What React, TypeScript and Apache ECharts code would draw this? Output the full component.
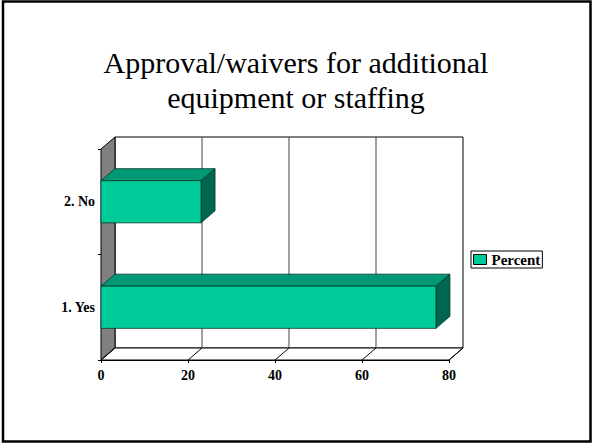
import React, { useEffect, useRef } from "react";
import * as echarts from "echarts";

// Chart data
const categories = ["1. Yes", "2. No"];
const percent = [77, 23];
const xTicks = [0, 20, 40, 60, 80];
const seriesName = "Percent";
const titleLines = ["Approval/waivers for additional", "equipment or staffing"];

// 3D depth offset of the box (pixels)
const DX = 14;
const DY = -12;
const SERIF = "Liberation Serif";

export default function App() {
  const ref = useRef<HTMLDivElement>(null);

  useEffect(() => {
    if (!ref.current) return;
    const chart = echarts.init(ref.current, undefined, { renderer: "svg" });

    const xMin = xTicks[0];
    const xMax = xTicks[xTicks.length - 1];

    const option: any = {
      animation: false,
      backgroundColor: "#fff",
      textStyle: { fontFamily: SERIF },
      title: {
        text: titleLines.join("\n"),
        left: "center",
        top: 40,
        textStyle: {
          fontFamily: SERIF,
          fontSize: 30,
          fontWeight: "normal",
          lineHeight: 35,
          color: "#000",
        },
      },
      legend: {
        data: [
          {
            name: seriesName,
            icon: "rect",
            itemStyle: { color: "#00CC99", borderColor: "#000", borderWidth: 1 },
          },
        ],
        left: 471,
        top: 251,
        orient: "vertical",
        padding: [1, 2, 1, 2],
        itemWidth: 13,
        itemHeight: 10,
        borderColor: "#000",
        borderWidth: 1,
        backgroundColor: "#fff",
        selectedMode: false,
        textStyle: {
          fontFamily: SERIF,
          fontWeight: "bold",
          fontSize: 15,
          color: "#000",
        },
      },
      grid: { left: 101, top: 149, width: 348, height: 211 },
      xAxis: {
        type: "value",
        min: xMin,
        max: xMax,
        interval: 20,
        axisLine: { show: true, lineStyle: { color: "#000", width: 1 } },
        axisTick: { show: true, length: 3, lineStyle: { color: "#000" } },
        splitLine: { show: false },
        axisLabel: {
          margin: 8,
          fontFamily: SERIF,
          fontWeight: "bold",
          fontSize: 14,
          color: "#000",
        },
      },
      yAxis: {
        type: "category",
        data: categories,
        axisLine: { show: true, lineStyle: { color: "#000", width: 1 } },
        axisTick: { show: true, length: 3, lineStyle: { color: "#000" } },
        axisLabel: {
          margin: 6,
          fontFamily: SERIF,
          fontWeight: "bold",
          fontSize: 14,
          color: "#000",
        },
      },
      graphic: [
        {
          type: "rect",
          shape: { x: 3, y: 1.5, width: 587.5, height: 440 },
          style: { fill: "none", stroke: "#000", lineWidth: 2.5 },
          silent: true,
        },
      ],
      series: [
        {
          // walls, floor and gridlines of the 3D box
          type: "custom",
          name: "frame",
          silent: true,
          z: 1,
          data: [[xMin, 0]],
          renderItem: (params: any, api: any) => {
            const cs = params.coordSys;
            const left = cs.x;
            const top = cs.y;
            const right = cs.x + cs.width;
            const bottom = cs.y + cs.height;
            const children: any[] = [
              {
                type: "rect",
                shape: { x: left + DX, y: top + DY, width: cs.width, height: cs.height },
                style: { fill: "#fff", stroke: "#000", lineWidth: 1 },
              },
              {
                type: "polygon",
                shape: {
                  points: [
                    [left, top],
                    [left + DX, top + DY],
                    [left + DX, bottom + DY],
                    [left, bottom],
                  ],
                },
                style: { fill: "#808080", stroke: "#000", lineWidth: 1 },
              },
              {
                type: "polygon",
                shape: {
                  points: [
                    [left, bottom],
                    [left + DX, bottom + DY],
                    [right + DX, bottom + DY],
                    [right, bottom],
                  ],
                },
                style: { fill: "#fff", stroke: "#000", lineWidth: 1 },
              },
            ];
            xTicks.forEach((t) => {
              const x = api.coord([t, 0])[0];
              if (t !== xMin && t !== xMax) {
                children.push({
                  type: "line",
                  shape: { x1: x + DX, y1: top + DY, x2: x + DX, y2: bottom + DY },
                  style: { stroke: "#444", lineWidth: 1 },
                });
              }
              children.push({
                type: "line",
                shape: { x1: x, y1: bottom, x2: x + DX, y2: bottom + DY },
                style: { stroke: "#000", lineWidth: 1 },
              });
            });
            return { type: "group", children };
          },
        },
        {
          type: "custom",
          name: seriesName,
          z: 3,
          itemStyle: { color: "#00CC99" },
          encode: { x: 0, y: 1 },
          data: percent.map((v, i) => [v, i]),
          renderItem: (params: any, api: any) => {
            const cat = api.value(1);
            const [x1, yc] = api.coord([api.value(0), cat]);
            const x0 = api.coord([xMin, cat])[0];
            const band = api.size([0, 1])[1];
            const h = band * 0.4;
            const yt = yc - h / 2;
            const yb = yc + h / 2;
            const edge = { stroke: "#00392b", lineWidth: 0.8 };
            return {
              type: "group",
              children: [
                {
                  type: "polygon",
                  shape: {
                    points: [
                      [x0, yt],
                      [x0 + DX, yt + DY],
                      [x1 + DX, yt + DY],
                      [x1, yt],
                    ],
                  },
                  style: { fill: "#009977", ...edge },
                },
                {
                  type: "polygon",
                  shape: {
                    points: [
                      [x1, yt],
                      [x1 + DX, yt + DY],
                      [x1 + DX, yb + DY],
                      [x1, yb],
                    ],
                  },
                  style: { fill: "#006650", ...edge },
                },
                {
                  type: "rect",
                  shape: { x: x0, y: yt, width: x1 - x0, height: h },
                  style: { fill: "#00CC99", ...edge },
                },
              ],
            };
          },
        },
      ],
    };

    chart.setOption(option);
    return () => chart.dispose();
  }, []);

  return (
    <div
      ref={ref}
      style={{ position: "absolute", left: 0, top: 0, width: 592, height: 444 }}
    />
  );
}
